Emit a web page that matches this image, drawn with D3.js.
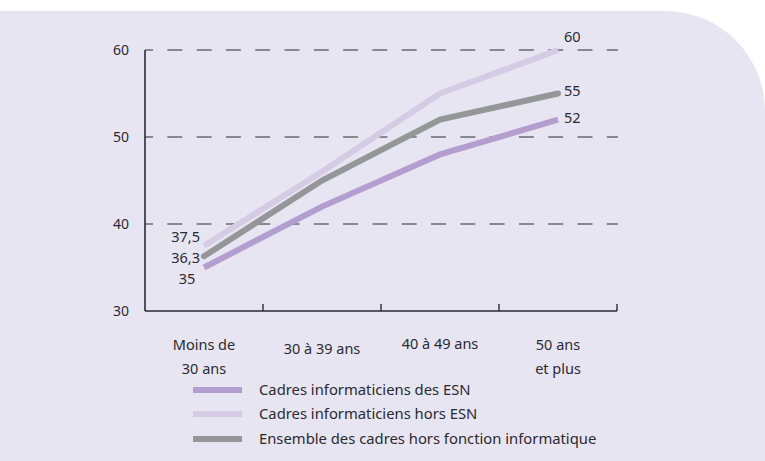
<!DOCTYPE html>
<html><head><meta charset="utf-8">
<script src="https://cdn.jsdelivr.net/npm/d3@7"></script>
<style>
html,body{margin:0;padding:0;background:#fff;}
svg{display:block;font-family:"Noto Sans",sans-serif;}
</style></head>
<body><svg id="c" width="765" height="461"></svg>
<script>
const categories = ["Moins de\n30 ans", "30 à 39 ans", "40 à 49 ans", "50 ans\net plus"];
const esn = [35, 42, 48, 52];
const horsEsn = [37.5, 46, 55, 60];
const ensemble = [36.3, 45, 52, 55];
const yTicks = [30, 40, 50, 60];
const seriesNames = ["Cadres informaticiens des ESN", "Cadres informaticiens hors ESN", "Ensemble des cadres hors fonction informatique"];
const firstLabels = ["35", "37,5", "36,3"];
const lastLabels = ["52", "60", "55"];

const colors = ["#b49dcf", "#d6cbe5", "#959697"];
const series = [esn, horsEsn, ensemble];

const svg = d3.select("#c");
const W = 765, H = 461;
// panel with rounded top-right corner
const panelTop = 11, r = 100;
svg.append("path")
  .attr("d", `M0,${panelTop} H${W - r} A${r},${r} 0 0 1 ${W},${panelTop + r} V${H} H0 Z`)
  .attr("fill", "#e8e5f3");

const x = d3.scaleBand().domain(categories).range([145, 617]);
const y = d3.scaleLinear().domain([30, 60]).range([311, 50]);
const cx = c => x(c) + x.bandwidth() / 2;

// dashed gridlines
svg.append("g").selectAll("line").data(yTicks.filter(t => t > 30)).join("line")
  .attr("x1", 145).attr("x2", 618)
  .attr("y1", d => y(d)).attr("y2", d => y(d))
  .attr("stroke", "#6b6870").attr("stroke-width", 1.3)
  .attr("stroke-dasharray", "15 14.3").attr("stroke-dashoffset", 7);

// y axis line
svg.append("line").attr("x1", 145).attr("x2", 145).attr("y1", y(60)).attr("y2", y(30))
  .attr("stroke", "#2b2a2e").attr("stroke-width", 1.6);
// x axis line
svg.append("line").attr("x1", 145).attr("x2", 617).attr("y1", y(30)).attr("y2", y(30))
  .attr("stroke", "#2b2a2e").attr("stroke-width", 1.6);
// x ticks at band boundaries
const bounds = categories.slice(1).map(c => x(c)).concat([x.range()[1]]);
svg.append("g").selectAll("line").data(bounds).join("line")
  .attr("x1", d => d).attr("x2", d => d)
  .attr("y1", y(30)).attr("y2", y(30) - 7)
  .attr("stroke", "#2b2a2e").attr("stroke-width", 1.4);

// y tick labels
svg.append("g").selectAll("text").data(yTicks).join("text")
  .attr("x", 129).attr("y", d => y(d)).attr("dy", "0.35em")
  .attr("text-anchor", "end").attr("font-size", 14).attr("fill", "#2b2a2e")
  .text(d => d);

// x labels
const xl = svg.append("g").selectAll("text").data(categories).join("text")
  .attr("text-anchor", "middle").attr("font-size", 14.5).attr("fill", "#2b2a2e")
  .attr("x", d => cx(d))
  .attr("y", d => d.includes("\n") ? 350 : (d.startsWith("30") ? 354 : 349));
xl.each(function(d) {
  const lines = d.split("\n");
  d3.select(this).selectAll("tspan").data(lines).join("tspan")
    .attr("x", cx(d)).attr("dy", (l, i) => i === 0 ? 0 : 24).text(l => l);
});

// lines
const line = d3.line().x((d, i) => cx(categories[i])).y(d => y(d));
const order = [1, 2, 0];
order.forEach(k => {
  svg.append("path").datum(series[k])
    .attr("d", line).attr("fill", "none")
    .attr("stroke", colors[k]).attr("stroke-width", 6)
    .attr("stroke-linecap", k === 2 ? "round" : "butt");
});

// value labels
const fl = svg.append("g").attr("font-size", 14.5).attr("fill", "#2b2a2e");
fl.append("text").attr("x", 200).attr("y", 237).attr("dy", "0.35em").attr("text-anchor", "end").text(firstLabels[1]);
fl.append("text").attr("x", 200).attr("y", 258).attr("dy", "0.35em").attr("text-anchor", "end").text(firstLabels[2]);
fl.append("text").attr("x", 187).attr("y", 279).attr("dy", "0.35em").attr("text-anchor", "middle").text(firstLabels[0]);
const lx = cx(categories[3]) + 6;
fl.append("text").attr("x", lx).attr("y", y(horsEsn[3]) - 13).attr("dy", "0.35em").text(lastLabels[1]);
fl.append("text").attr("x", lx).attr("y", y(ensemble[3]) - 3).attr("dy", "0.35em").text(lastLabels[2]);
fl.append("text").attr("x", lx).attr("y", y(esn[3]) - 2).attr("dy", "0.35em").text(lastLabels[0]);

// legend
const lg = svg.append("g");
const ly = [390, 414, 439];
seriesNames.forEach((n, i) => {
  lg.append("line").attr("x1", 193).attr("x2", 242).attr("y1", ly[i]).attr("y2", ly[i])
    .attr("stroke", colors[i]).attr("stroke-width", 6);
  lg.append("text").attr("x", 259).attr("y", ly[i]).attr("dy", "0.35em")
    .attr("font-size", 14.8).attr("fill", "#2b2a2e").text(n);
});
</script></body></html>
